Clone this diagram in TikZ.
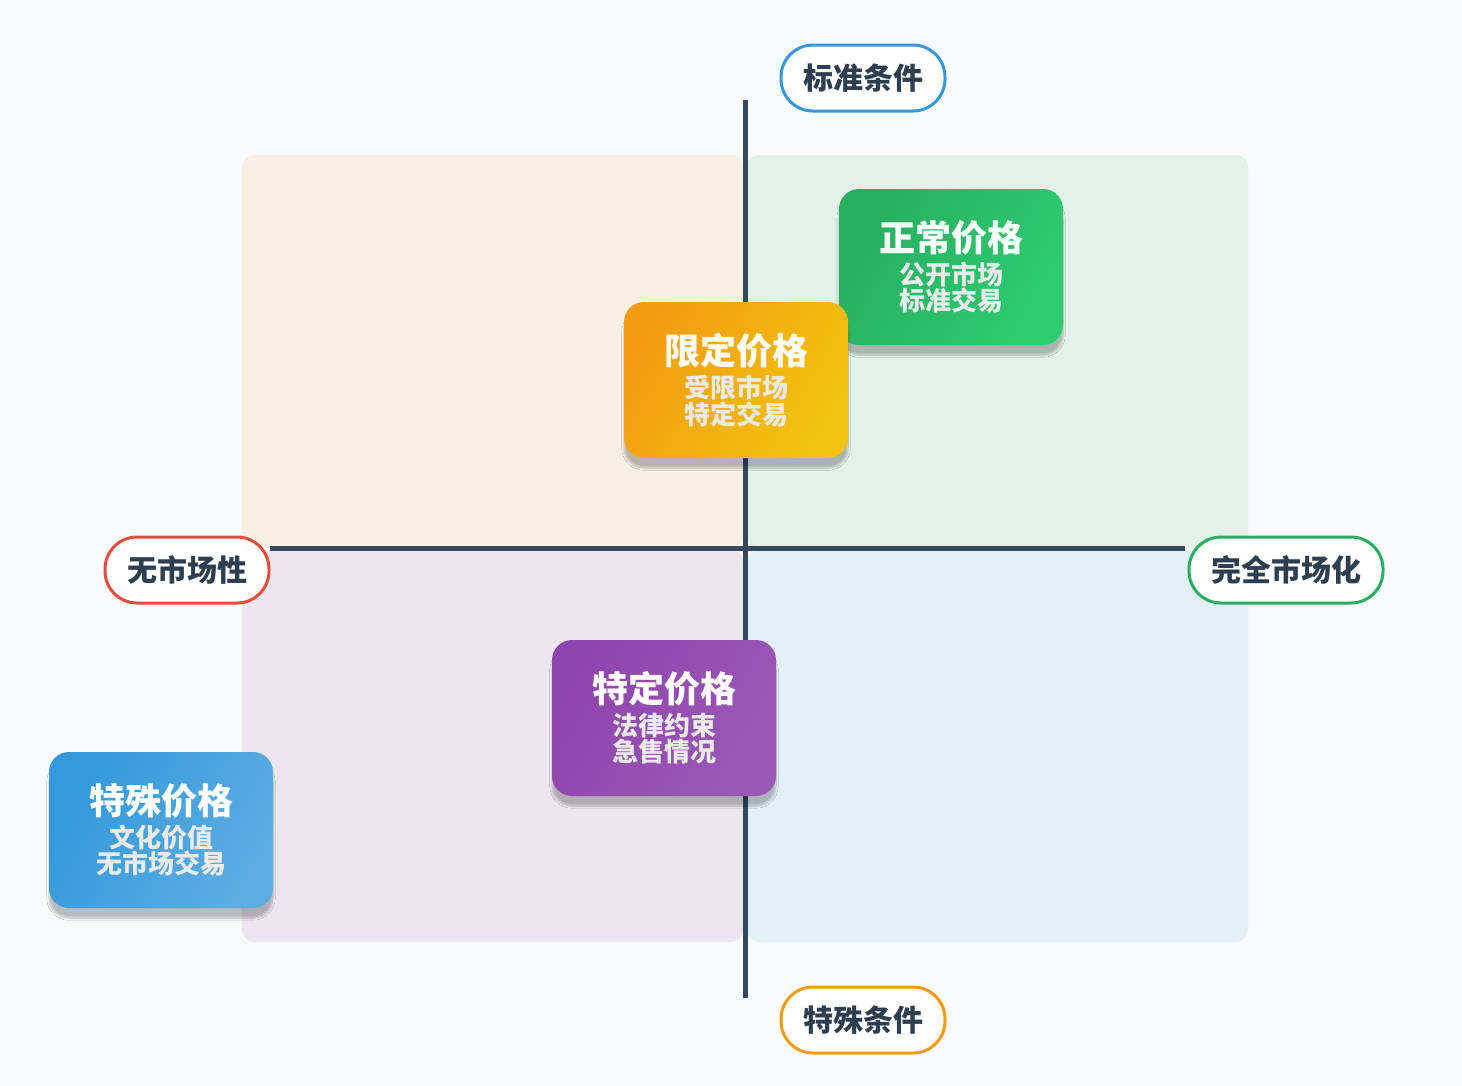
\documentclass[tikz,border=0pt]{standalone}
\usepackage{fontspec}
\setmainfont{Noto Sans CJK SC}
\usetikzlibrary{shadows.blur}
\definecolor{bgpage}{HTML}{F8FAFC}
\definecolor{axisdark}{HTML}{34495E}
\definecolor{textdark}{HTML}{2C3E50}
\definecolor{qtl}{HTML}{F8F0E3}
\definecolor{qtr}{HTML}{E3F1E9}
\definecolor{qbl}{HTML}{ECE6F1}
\definecolor{qbr}{HTML}{E5EFF8}
\definecolor{ablue}{HTML}{3498DB}
\definecolor{ablue2}{HTML}{5DADE2}
\definecolor{ared}{HTML}{E74C3C}
\definecolor{agreen}{HTML}{27AE60}
\definecolor{agreen2}{HTML}{2ECC71}
\definecolor{aorange}{HTML}{F39C12}
\definecolor{ayellow}{HTML}{F1C40F}
\definecolor{apurple}{HTML}{8E44AD}
\definecolor{apurple2}{HTML}{9B59B6}
\tikzset{
  quadrant/.style={draw=none, rounded corners=12pt},
  axisLine/.style={axisdark, line width=5pt},
  axisLabel/.style={
    draw=#1, line width=3pt, fill=white, rounded corners=32pt,
    minimum height=66pt, inner xsep=22pt,
    font=\fontsize{30}{34}\selectfont\bfseries, text=textdark
  },
  priceBox/.style 2 args={
    rounded corners=20pt, minimum width=224pt, minimum height=156pt,
    left color=#1, right color=#2, shading angle=60,
    blur shadow={shadow blur steps=10, shadow xshift=0pt, shadow yshift=-10pt, shadow opacity=25},
    text=white, align=center, inner sep=0pt
  }
}
\newcommand{\priceText}[3]{{\fontsize{36}{44}\selectfont\bfseries #1}\\[6pt]%
  {\fontsize{26}{36}\selectfont\bfseries\color{white!92!black} #2}\\{\fontsize{26}{36}\selectfont\bfseries\color{white!92!black} #3}}
\begin{document}
\begin{tikzpicture}[x=1pt,y=-1pt]
  \fill[bgpage] (0,0) rectangle (1462,1085);
  \useasboundingbox (0,0) rectangle (1462,1085);
  % quadrants
  \fill[quadrant, qtl] (242,155) rectangle (743,548);
  \fill[quadrant, qtr] (747,155) rectangle (1248,548);
  \fill[quadrant, qbl] (242,550) rectangle (743,942);
  \fill[quadrant, qbr] (747,550) rectangle (1248,942);
  % axes
  \coordinate (top) at (745,100);
  \coordinate (bottom) at (745,998);
  \coordinate (left) at (270,548);
  \coordinate (right) at (1185,548);
  \draw[axisLine] (top) -- (bottom);
  \draw[axisLine] (left) -- (right);
  % axis labels
  \node[axisLabel=ablue] (standard) at (863,78) {标准条件};
  \node[axisLabel=aorange] (special) at (863,1020) {特殊条件};
  \node[axisLabel=ared] (nomarket) at (187,570) {无市场性};
  \node[axisLabel=agreen] (fullmarket) at (1286,570) {完全市场化};
  % price boxes
  \node[priceBox={agreen}{agreen2}] (normal) at (951,267) {\priceText{正常价格}{公开市场}{标准交易}};
  \node[priceBox={aorange}{ayellow}] (limited) at (736,380) {\priceText{限定价格}{受限市场}{特定交易}};
  \node[priceBox={apurple}{apurple2}] (specific) at (664,718) {\priceText{特定价格}{法律约束}{急售情况}};
  \node[priceBox={ablue}{ablue2}] (unique) at (161,830) {\priceText{特殊价格}{文化价值}{无市场交易}};
\end{tikzpicture}
\end{document}
